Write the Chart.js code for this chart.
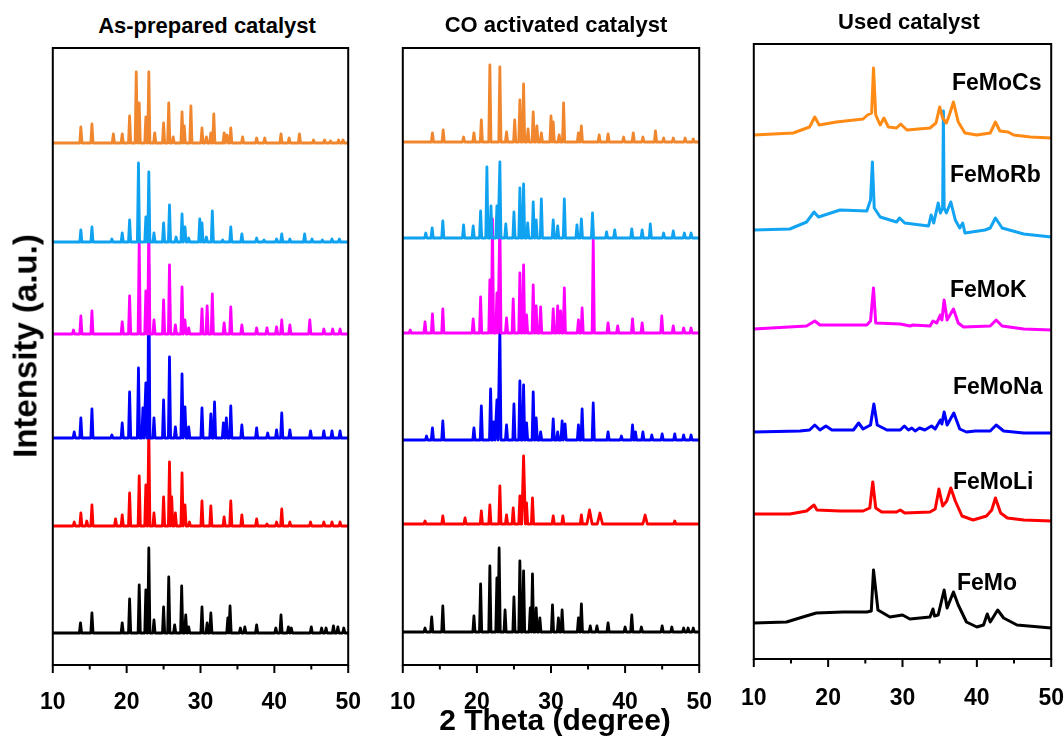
<!DOCTYPE html>
<html><head><meta charset="utf-8">
<script src="https://cdn.jsdelivr.net/npm/chart.js@4.4.0/dist/chart.umd.min.js"></script>
<style>
body{margin:0;background:#fff;width:1064px;height:742px;overflow:hidden;position:relative;font-family:"Liberation Sans",Arial,sans-serif;}
canvas{position:absolute;}
.t{position:absolute;font-weight:bold;color:#000;white-space:nowrap;line-height:1;}
</style></head><body>
<canvas id="c1"></canvas><canvas id="c2"></canvas><canvas id="c3"></canvas>
<script>
// ---------------- data ----------------
const xTickValues = [10, 20, 30, 40, 50];
const xMinorTicks = [15, 25, 35, 45];
const panelTitles = ['As-prepared catalyst', 'CO activated catalyst', 'Used catalyst'];
const sampleNames = ['FeMoCs', 'FeMoRb', 'FeMoK', 'FeMoNa', 'FeMoLi', 'FeMo'];
const xTitle = '2 Theta (degree)';
const yTitle = 'Intensity (a.u.)';

// Panel 1: as-prepared, peaks [2theta, intensity]
const asOffsets = [522, 423, 331, 227, 139, 32];
const asCs = [[13.8,16],[15.3,19],[18.2,9],[19.4,9],[20.4,27],[21.3,71],[21.7,40],[22.6,26],[23.0,71],[23.8,10],[25.0,20],[25.7,40],[26.3,6],[27.5,31],[27.8,17],[28.7,37],[30.2,15],[30.8,6],[31.4,10],[31.8,29],[33.2,10],[33.6,8],[34.1,15],[35.7,6],[37.6,5],[38.7,5],[40.9,9],[42.0,5],[43.4,9],[45.3,3],[46.8,3],[47.6,2],[48.7,3],[49.3,3]];
const asRb = [[13.8,12],[15.3,15],[18.0,3],[19.4,9],[20.4,22],[21.6,79],[22.6,25],[23.0,70],[23.7,9],[25.0,19],[25.8,37],[26.7,5],[27.5,28],[27.9,15],[28.4,4],[29.9,23],[30.2,19],[30.8,5],[31.6,31],[33.0,2],[34.1,15],[35.6,8],[37.6,4],[38.6,2],[40.3,3],[41.0,8],[42.1,3],[44.1,8],[45.1,3],[46.5,2],[47.8,3],[48.8,3]];
const asK = [[12.8,4],[13.8,18],[15.3,23],[19.4,12],[20.4,38],[21.7,92],[22.6,43],[23.0,111],[23.7,14],[25.0,34],[25.8,69],[26.6,9],[27.5,47],[27.9,14],[28.4,6],[30.2,25],[30.9,28],[31.6,40],[33.2,11],[34.1,27],[35.6,9],[37.6,6],[39.0,6],[40.3,7],[41.0,14],[42.1,9],[44.8,14],[46.7,5],[47.9,5],[48.9,5]];
const asNa = [[12.9,6],[13.8,20],[15.3,29],[18.0,3],[19.4,15],[20.4,46],[21.6,70],[22.2,30],[22.6,55],[23.0,173],[23.7,20],[25.0,38],[25.8,81],[26.6,11],[27.5,64],[27.9,31],[28.4,11],[30.2,30],[31.4,24],[31.9,36],[33.1,15],[33.5,20],[34.1,32],[35.6,13],[37.6,10],[39.1,5],[40.3,8],[41.0,25],[42.1,8],[44.9,7],[46.7,7],[47.8,7],[48.9,7]];
const asLi = [[12.9,4],[13.8,13],[14.6,5],[15.3,21],[18.5,7],[19.4,11],[20.4,33],[21.7,50],[22.6,41],[23.0,101],[23.7,13],[25.0,29],[25.8,64],[26.1,29],[26.6,13],[27.5,53],[27.9,21],[28.5,4],[30.2,25],[31.4,20],[33.2,9],[34.1,25],[35.6,11],[37.6,7],[39.0,2],[40.3,4],[41.0,17],[42.1,4],[44.9,4],[46.7,4],[47.8,4],[48.9,4]];
const asFeMo = [[13.75,10],[15.3,20],[19.4,10],[20.4,34],[21.7,48],[22.6,43],[23.0,85],[23.7,13],[25.0,26],[25.7,56],[26.5,8],[27.45,47],[28.0,18],[28.4,6],[30.2,26],[30.9,10],[31.4,20],[33.7,15],[34.0,27],[35.4,5],[36.0,6],[37.6,8],[40.2,5],[40.9,18],[41.9,6],[42.3,5],[45.0,6],[46.4,5],[47.0,5],[48.0,7],[48.6,6],[49.4,5]];

// Panel 2: CO activated, peaks [2theta, intensity, (half width)]
const coOffsets = [523, 427, 332, 225, 141, 33];
const coCs = [[14.0,9],[15.45,12],[18.2,5],[19.6,9],[20.6,22],[21.75,77],[23.1,75],[24.0,10],[25.1,22],[25.8,42],[26.3,58],[26.9,13],[27.6,30],[28.1,16],[28.7,9],[30.0,26],[30.3,20],[31.1,7],[31.7,39],[33.7,9],[34.1,16],[36.5,7],[37.7,8],[39.8,5],[41.1,9],[42.4,5],[44.1,11],[45.2,4],[46.5,4],[48.1,4],[49.2,3]];
const coRb = [[13.1,5],[13.96,10],[15.4,17],[18.2,13],[19.5,12],[20.5,27],[21.35,71],[21.9,32],[22.7,32],[23.1,76],[23.9,14],[25.0,26],[25.8,50],[26.3,54],[26.85,15],[27.6,36],[28.0,18],[28.7,39],[30.3,18],[30.9,12],[31.8,39],[33.5,13],[34.1,19],[35.6,25],[37.5,6],[38.6,8],[40.9,9],[42.3,8],[43.4,14],[45.2,5],[46.5,7],[48.0,5],[48.9,5]];
const coK = [[11.0,3],[13.0,11],[14.0,19],[15.4,24],[19.5,14],[20.5,36],[21.75,53],[22.1,114],[22.7,40],[23.1,115],[24.0,15],[24.9,34],[25.8,60],[26.3,68],[26.7,18],[27.6,48],[28.0,27],[28.6,26],[30.3,24],[30.9,27],[31.3,22],[31.8,45],[33.7,13],[34.2,25],[35.7,93],[37.7,10],[39.0,7],[41.0,14],[42.3,10],[44.95,17],[46.5,7],[47.9,5],[48.9,5]];
const coNa = [[13.2,4],[14.0,12],[15.4,19],[19.6,12],[20.6,34],[21.85,51],[22.3,18],[22.7,40],[23.1,112],[24.0,15],[25.0,36],[25.8,59],[26.3,55],[26.7,17],[27.6,48],[28.0,22],[28.6,8],[30.3,21],[30.9,8],[31.5,19],[31.9,16],[33.7,15],[34.2,31],[35.7,37],[37.7,8],[39.5,4],[41.0,15],[41.4,8],[42.4,8],[43.6,5],[45.0,6],[46.7,6],[47.9,5],[48.9,5]];
const coLi = [[13.0,3],[15.4,8],[18.4,6],[20.6,13],[21.75,19],[23.1,38],[24.0,9],[24.9,16],[25.8,28],[26.3,68,0.25],[26.7,21],[27.5,26],[30.3,8],[31.6,8],[34.1,9],[35.2,14,0.35],[36.6,11,0.35],[42.7,9,0.3],[46.7,3]];
const coFeMo = [[13.0,4],[13.9,15],[15.4,26],[19.6,16],[20.5,48],[21.75,66],[22.7,54],[23.0,84],[23.8,22],[25.0,35],[25.8,71],[26.3,61],[27.2,24],[27.5,58],[28.0,24],[28.5,14],[30.2,27],[31.0,14],[31.5,22],[33.7,14],[34.1,28],[35.3,6],[36.2,6],[37.7,9],[40.0,5],[40.9,17],[42.2,5],[45.0,6],[46.3,5],[47.9,4],[48.5,4],[49.2,4]];

// Panel 3: used catalyst, profile points [2theta, intensity]
const usedOffsets = [524, 429, 330, 227, 145, 36];
const usedCs = [[10,0],[15.3,2],[17.5,8],[18.2,18],[18.8,10],[21.1,13],[24.7,16],[25.3,20],[25.85,22],[26.1,67],[26.4,20],[27.0,10],[27.5,17],[28.1,8],[29.2,7],[29.75,11],[30.6,5],[33.7,7],[34.5,12],[35.0,28],[35.4,17],[35.9,12],[36.3,20],[36.85,33],[37.5,13],[38.4,2],[40.0,0],[41.8,2],[42.5,13],[43.1,4],[44.2,3],[44.95,0],[47.2,-2],[50,-3]];
const usedRb = [[10,0],[14.85,1],[17.1,8],[18.1,18],[18.7,13],[21.6,20],[25.2,19],[25.7,30],[25.95,68],[26.2,22],[27.0,13],[29.2,8],[29.6,12],[30.3,7],[33.5,4],[33.85,15],[34.2,7],[34.8,27],[35.1,17],[35.4,22],[35.5,119],[35.6,22],[35.9,17],[36.5,28],[37.1,10],[37.7,2],[38.1,7],[38.4,-3],[41.1,0],[41.8,2],[42.5,12],[43.4,2],[46.3,-4],[50,-7]];
const usedK = [[10,0],[17.1,3],[18.2,8],[18.9,4],[25.2,4],[25.7,8],[26.1,41],[26.4,6],[29.7,5],[31.0,3],[31.4,4],[33.7,3],[34.1,8],[34.6,6],[35.1,14],[35.3,9],[35.6,29],[36.0,9],[36.85,20],[37.5,6],[38.2,2],[41.8,3],[42.6,9],[43.4,3],[46.3,0],[50,-1]];
const usedNa = [[10,0],[16.2,1],[17.5,2],[18.2,7],[18.9,2],[19.7,6],[20.5,2],[23.4,2],[24.1,9],[24.7,3],[25.7,7],[26.15,28],[26.6,7],[27.9,2],[29.7,2],[30.25,6],[30.8,2],[31.25,4],[31.7,1],[32.3,4],[33.0,2],[33.9,6],[34.4,3],[35.1,12],[35.3,8],[35.6,20],[36.0,7],[36.9,19],[37.7,3],[38.6,0],[39.8,1],[41.8,1],[42.6,7],[43.6,1],[46.3,-1],[50,-1]];
const usedLi = [[10,0],[14.85,0],[17.1,3],[18.1,9],[18.5,4],[21.6,3],[24.7,3],[25.6,6],[26.0,32],[26.4,6],[27.2,2],[29.2,2],[29.7,4],[30.3,1],[33.7,2],[34.4,5],[34.9,25],[35.4,8],[35.95,13],[36.5,26],[37.1,13],[38.0,-2],[39.5,-6],[41.3,-2],[42.0,4],[42.5,16],[43.2,1],[44.1,-4],[46.3,-6],[50,-7]];
const usedFeMo = [[10,0],[14.4,1],[16.6,6],[18.4,10],[22.0,11],[25.2,11],[25.8,12],[26.1,53],[26.7,13],[28.3,6],[30.0,8],[31.0,4],[33.7,6],[34.1,14],[34.3,7],[34.8,8],[35.6,33],[36.0,15],[36.85,31],[37.5,18],[38.6,1],[40.0,-4],[40.9,-2],[41.4,9],[41.8,1],[42.8,13],[43.6,5],[45.4,-2],[50,-5]];

// ---------------- styles ----------------
const colorsAC = ['#F0872E', '#0FA2F0', '#FF00FF', '#0000FF', '#FF0000', '#000000'];
const colorsUsed = ['#FF8A14', '#12A4F2', '#FF00FF', '#0000FF', '#FF0000', '#000000'];
const FONT = '"Liberation Sans", Arial, sans-serif';

function stickLine(peaks, offset) {
  const pts = [[10, 0]];
  peaks.forEach(p => { const w = p[2] || 0.15; pts.push([p[0] - w, 0], [p[0], p[1]], [p[0] + w, 0]); });
  pts.push([50, 0]);
  pts.sort((a, b) => a[0] - b[0]);
  return pts.map(([x, v]) => ({ x, y: offset + v }));
}
function profileLine(points, offset) {
  return points.map(([x, v]) => ({ x, y: offset + v }));
}

const framePlugin = {
  id: 'frame',
  afterDatasetsDraw(chart) {
    const { ctx, chartArea: a } = chart; const xs = chart.scales.x;
    ctx.save();
    ctx.strokeStyle = '#000'; ctx.lineWidth = 2;
    ctx.strokeRect(a.left, a.top, a.right - a.left, a.bottom - a.top);
    xTickValues.forEach(v => { const p = xs.getPixelForValue(v); ctx.beginPath(); ctx.moveTo(p, a.bottom); ctx.lineTo(p, a.bottom + 8); ctx.stroke(); });
    xMinorTicks.forEach(v => { const p = xs.getPixelForValue(v); ctx.beginPath(); ctx.moveTo(p, a.bottom); ctx.lineTo(p, a.bottom + 4.5); ctx.stroke(); });
    ctx.restore();
  }
};

function chartConfig(datasets, plotH, labelPad, lw, axisH) {
  return {
    type: 'line',
    data: { datasets: datasets },
    options: {
      responsive: false, maintainAspectRatio: false, animation: false, devicePixelRatio: 1,
      layout: { padding: { left: 24, right: 24, top: 4, bottom: 0 } },
      plugins: { legend: { display: false }, tooltip: { enabled: false } },
      elements: { point: { radius: 0 }, line: { borderWidth: lw, tension: 0, borderJoinStyle: 'round', borderCapStyle: 'round' } },
      scales: {
        x: { type: 'linear', min: 10, max: 50, afterFit: s => { s.height = axisH; },
             grid: { display: false }, border: { display: false },
             ticks: { stepSize: 10, autoSkip: false, maxRotation: 0, padding: labelPad, color: '#000',
                      font: { family: FONT, size: 23, weight: 'bold', lineHeight: 1 } } },
        y: { display: false, min: 0, max: plotH }
      }
    },
    plugins: [framePlugin]
  };
}

function makePanel(id, left, top, plotW, plotH, datasets, labelPad, lw) {
  const axisH = 60;
  const cv = document.getElementById(id);
  cv.width = plotW + 48; cv.height = plotH + 4 + axisH;
  let chart = new Chart(cv, chartConfig(datasets, plotH, labelPad, lw, axisH));
  let ca = chart.chartArea;
  const W = cv.width + Math.round(plotW - (ca.right - ca.left));
  const H = cv.height + Math.round(plotH - (ca.bottom - ca.top));
  chart.destroy();
  cv.width = W; cv.height = H;
  chart = new Chart(cv, chartConfig(datasets, plotH, labelPad, lw, axisH));
  ca = chart.chartArea;
  cv.style.left = (left - ca.left) + 'px'; cv.style.top = (top - ca.top) + 'px';
  return chart;
}

const asSeries = [asCs, asRb, asK, asNa, asLi, asFeMo];
const coSeries = [coCs, coRb, coK, coNa, coLi, coFeMo];
const usedSeries = [usedCs, usedRb, usedK, usedNa, usedLi, usedFeMo];

makePanel('c1', 53, 48, 295, 617, asSeries.map((s, i) => ({ data: stickLine(s, asOffsets[i]), borderColor: colorsAC[i] })), 18, 2.8);
makePanel('c2', 403, 48, 296, 617, coSeries.map((s, i) => ({ data: stickLine(s, coOffsets[i]), borderColor: colorsAC[i] })), 18, 2.8);
makePanel('c3', 754, 44, 297, 615, usedSeries.map((s, i) => ({ data: profileLine(s, usedOffsets[i]), borderColor: colorsUsed[i] })), 20, 3);

// ---------------- text ----------------
function addText(txt, cx, capCenterY, size, align, left) {
  const d = document.createElement('div');
  d.className = 't'; d.textContent = txt; d.style.fontSize = size + 'px';
  d.style.top = (capCenterY - 0.4885 * size) + 'px';
  if (align === 'center') { d.style.left = cx + 'px'; d.style.transform = 'translateX(-50%)'; }
  else { d.style.left = left + 'px'; }
  document.body.appendChild(d);
  return d;
}
addText(panelTitles[0], 207, 26, 22, 'center');
addText(panelTitles[1], 556, 24.5, 22, 'center');
addText(panelTitles[2], 909, 22, 22, 'center');
const labelPos = [[952, 82], [950, 174], [950, 289], [953, 386], [953, 481], [957, 582]];
sampleNames.forEach((n, i) => addText(n, 0, labelPos[i][1], 23, 'left', labelPos[i][0]));
addText(xTitle, 555, 720, 30, 'center');
const yt = document.createElement('div');
yt.className = 't'; yt.textContent = yTitle; yt.style.fontSize = '33px';
yt.style.left = '25px'; yt.style.top = '346px';
yt.style.transform = 'translate(-50%,-50%) rotate(-90deg)';
document.body.appendChild(yt);
</script>
</body></html>
